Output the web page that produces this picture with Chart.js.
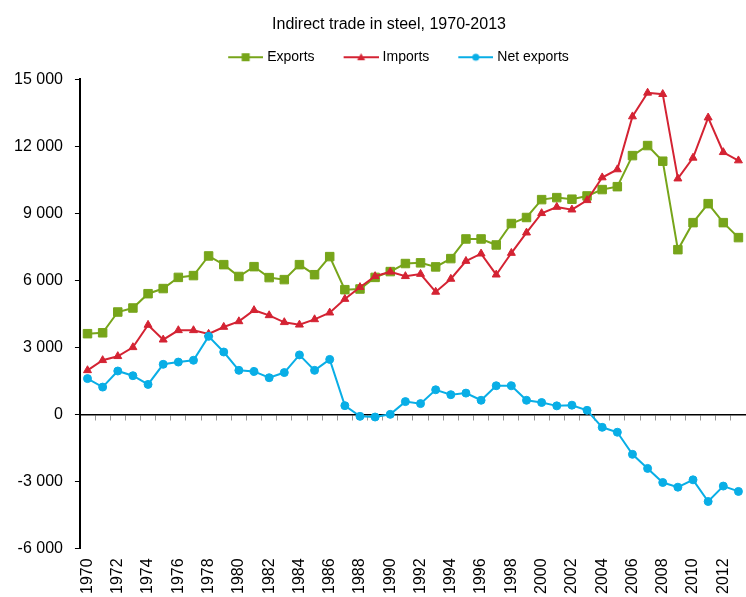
<!DOCTYPE html>
<html>
<head>
<meta charset="utf-8">
<title>Indirect trade in steel</title>
<script src="https://cdn.jsdelivr.net/npm/chart.js@4"></script>
<style>
  html, body { margin: 0; padding: 0; background: #fff; overflow: hidden; }
</style>
</head>
<body>
<canvas id="steel-chart" width="746" height="597"></canvas>
<script>
const years = ['1970', '1971', '1972', '1973', '1974', '1975', '1976', '1977', '1978', '1979',
               '1980', '1981', '1982', '1983', '1984', '1985', '1986', '1987', '1988', '1989',
               '1990', '1991', '1992', '1993', '1994', '1995', '1996', '1997', '1998', '1999',
               '2000', '2001', '2002', '2003', '2004', '2005', '2006', '2007', '2008', '2009',
               '2010', '2011', '2012', '2013']
const exportsData = [3610, 3650, 4580, 4760, 5400, 5630, 6130, 6210, 7090, 6700,
                     6170, 6610, 6120, 6030, 6700, 6250, 7060, 5580, 5610, 6130,
                     6390, 6750, 6780, 6600, 6970, 7850, 7850, 7580, 8540, 8810,
                     9610, 9700, 9630, 9775, 10060, 10190, 11580, 12030, 11330, 7370,
                     8580, 9430, 8580, 7910]
const importsData = [1970, 2420, 2600, 3000, 4000, 3340, 3760, 3760, 3600, 3910,
                     4160, 4660, 4430, 4120, 4010, 4250, 4550, 5160, 5690, 6180,
                     6380, 6180, 6280, 5480, 6060, 6860, 7190, 6250, 7220, 8130,
                     9000, 9280, 9160, 9580, 10600, 10960, 13330, 14390, 14330, 10550,
                     11480, 13280, 11730, 11360]
const netData = [1600, 1220, 1940, 1730, 1340, 2240, 2340, 2420, 3490, 2790,
                 1970, 1920, 1640, 1870, 2660, 1970, 2460, 390, -90, -120,
                 0, 570, 480, 1100, 880, 950, 630, 1280, 1280, 630,
                 530, 380, 410, 180, -580, -800, -1790, -2420, -3050, -3260,
                 -2930, -3900, -3210, -3450]
const yMin = -6000
const yMax = 15000
const yStep = 3000

const GREEN = '#77a51a'
const RED = '#d42333'
const BLUE = '#09aee6'

Chart.defaults.font.family = '"Liberation Sans", Arial, sans-serif'
Chart.defaults.color = '#000'

// small line + marker picture for the legend
function legendIcon(color, shape) {
    const c = document.createElement('canvas')
    c.width = 57
    c.height = 14
    const g = c.getContext('2d')
    g.strokeStyle = color
    g.fillStyle = color
    g.lineWidth = 2
    g.beginPath()
    g.moveTo(22, 7)
    g.lineTo(57, 7)
    g.stroke()
    const cx = 39.5, cy = 7
    g.beginPath()
    if (shape === 'rect') {
        g.rect(cx - 4, cy - 4, 8, 8)
    } else if (shape === 'triangle') {
        g.moveTo(cx, cy - 4)
        g.lineTo(cx + 4, cy + 3)
        g.lineTo(cx - 4, cy + 3)
        g.closePath()
    } else {
        g.arc(cx, cy, 3.5, 0, Math.PI * 2)
    }
    g.fill()
    return c
}

// a bit more room under the legend
const legendGap = {
    id: 'legendGap',
    beforeUpdate(chart) {
        const lg = chart.legend
        if (lg && !lg._gapPatched) {
            const fit = lg.fit
            lg.fit = function () {
                fit.call(this)
                this.height += 5
            }
            lg._gapPatched = true
        }
    }
}

// plot runs right up to the canvas edge
function noSidePadding(scale) {
    scale.paddingLeft = 0
    scale.paddingRight = 0
}

function series(label, data, color, style, radius, order) {
    return {
        label: label,
        data: data,
        borderColor: color,
        backgroundColor: color,
        borderWidth: 2,
        pointStyle: style,
        pointRadius: radius,
        pointHoverRadius: radius,
        pointBorderWidth: 1,
        tension: 0,
        order: order,
        legendShape: style
    }
}

const ctx = document.getElementById('steel-chart')
new Chart(ctx, {
    type: 'line',
    data: {
        labels: years,
        datasets: [
            series('Exports', exportsData, GREEN, 'rect', 6, 3),
            series('Imports', importsData, RED, 'triangle', 4.6, 2),
            series('Net exports', netData, BLUE, 'circle', 4, 1)
        ]
    },
    options: {
        responsive: false,
        animation: false,
        layout: {
            autoPadding: false,
            // negative right side: title and legend sit a little right of the page centre
            padding: { left: 2, right: -30, top: 0, bottom: -4 }
        },
        plugins: {
            title: {
                display: true,
                text: 'Indirect trade in steel, 1970-2013',
                font: { size: 16, weight: 'normal' },
                color: '#000',
                padding: { top: 15, bottom: 6 }
            },
            legend: {
                labels: {
                    usePointStyle: true,
                    pointStyleWidth: 51,
                    padding: 10,
                    font: { size: 14 },
                    color: '#000',
                    generateLabels: (chart) => chart.data.datasets.map((ds, i) => ({
                        text: ds.label,
                        fillStyle: ds.borderColor,
                        strokeStyle: ds.borderColor,
                        lineWidth: 0,
                        pointStyle: legendIcon(ds.borderColor, ds.legendShape),
                        hidden: !chart.isDatasetVisible(i),
                        datasetIndex: i
                    }))
                }
            },
            tooltip: { enabled: false }
        },
        scales: {
            x: {
                type: 'category',
                offset: true,
                afterFit: noSidePadding,
                grid: { display: false, drawTicks: true, tickLength: 3 },
                border: { display: false },
                ticks: {
                    autoSkip: false,
                    minRotation: 90,
                    maxRotation: 90,
                    padding: 7,
                    font: { size: 16 },
                    color: '#000',
                    // label every second year
                    callback: function (value, index) {
                        return index % 2 === 0 ? this.getLabelForValue(value) : null
                    }
                }
            },
            // the zero line with its small category ticks
            x2: {
                type: 'category',
                offset: true,
                position: { y: 0 },
                afterFit: noSidePadding,
                grid: {
                    offset: true,
                    drawOnChartArea: false,
                    drawTicks: true,
                    tickLength: 5,
                    color: '#999'
                },
                border: { color: '#000', width: 1.5 },
                ticks: { display: false }
            },
            y: {
                min: yMin,
                max: yMax,
                grid: {
                    drawOnChartArea: false,
                    tickLength: 5,
                    color: '#000'
                },
                border: { color: '#000', width: 2 },
                ticks: {
                    stepSize: yStep,
                    padding: 12,
                    font: { size: 16 },
                    color: '#000',
                    callback: (v) => String(v).replace(/\B(?=(\d{3})+(?!\d))/g, ' ')
                }
            }
        }
    },
    plugins: [legendGap]
})
</script>
</body>
</html>
